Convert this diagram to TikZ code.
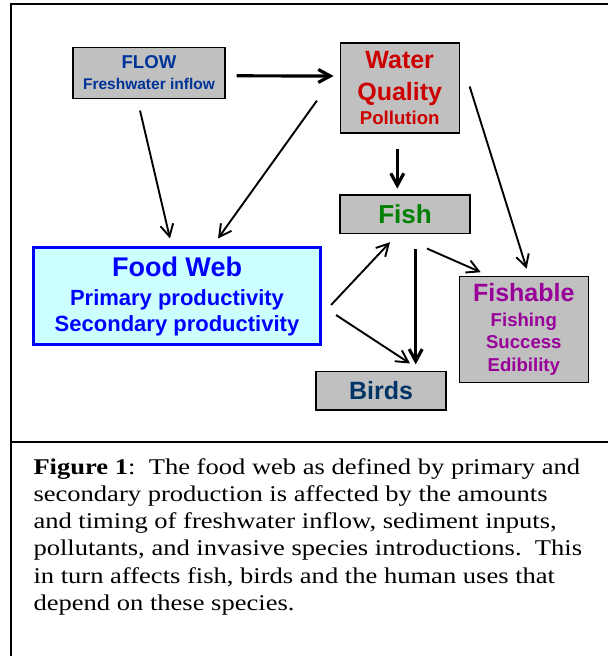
\documentclass[tikz,border=0pt]{standalone}
\usepackage{fontspec}
\setmainfont{Liberation Serif}[FakeStretch=1.18]
\setsansfont{Liberation Sans}
\usetikzlibrary{arrows.meta}
\definecolor{grisboite}{HTML}{C0C0C0}
\definecolor{bleuflux}{HTML}{003399}
\definecolor{rougeeau}{HTML}{CC0000}
\definecolor{vertpoisson}{HTML}{008000}
\definecolor{bleureseau}{HTML}{0000FF}
\definecolor{fondreseau}{HTML}{CCFFFF}
\definecolor{violetpeche}{HTML}{990099}
\definecolor{bleuoiseaux}{HTML}{003366}
\begin{document}
\begin{tikzpicture}[x=1pt,y=-1pt]
% Styles
\tikzstyle{fleche}=[-{Straight Barb[length=12pt,width=13pt]},line width=1.9pt]
\tikzstyle{grossefleche}=[fleche,line width=3.2pt]
\tikzstyle{boite}=[draw=black,line width=1.2pt,fill=grisboite,align=center,inner sep=0pt]
% Tailles de texte
\def\Grand{\fontsize{25}{31}\selectfont}
\def\Moyen{\fontsize{18.6}{23}\selectfont}
% Cadre
\useasboundingbox (0,0) rectangle (608,656);
\draw[line width=1.8pt] (608,4) -- (11,4) -- (11,656);
\draw[line width=1.8pt] (11,442) -- (608,442);
% Noeuds
\node[boite,minimum width=152pt,minimum height=51pt,text=bleuflux,font=\sffamily\bfseries\fontsize{15.5}{20.7}\selectfont] (Flux) at (149,72.8) {{\Moyen FLOW}\\Freshwater inflow};
\node[boite,minimum width=119pt,minimum height=90pt,text=rougeeau,font=\sffamily\bfseries\fontsize{25}{31.6}\selectfont] (Qualite) at (399.7,88) {Water\\Quality\\[-7.9pt]{\Moyen Pollution}};
\node[boite,minimum width=130pt,minimum height=38.5pt,text=vertpoisson,font=\sffamily\bfseries\fontsize{26}{30}\selectfont] (Poisson) at (405,214.2) {Fish};
\node[boite,draw=bleureseau,line width=3pt,fill=fondreseau,minimum width=287pt,minimum height=97pt,text=bleureseau,font=\sffamily\bfseries\fontsize{22}{26}\selectfont] (Reseau) at (177,296.2) {{\fontsize{27}{31}\selectfont Food Web}\\[3pt]Primary productivity\\Secondary productivity};
\node[boite,minimum width=129pt,minimum height=105.6pt,text=violetpeche,font=\sffamily\bfseries\fontsize{18.6}{22.5}\selectfont] (Peche) at (523.8,329.5) {{\Grand Fishable}\\[1.8pt]Fishing\\Success\\Edibility};
\node[boite,minimum width=130pt,minimum height=38.3pt,text=bleuoiseaux,font=\sffamily\bfseries\Grand] (Oiseaux) at (381,390.9) {Birds};
% Legende
\node[anchor=base west,align=left,inner sep=0pt,font=\fontsize{22.5}{27.2}\selectfont] (Legende) at (33.3,610.3) {\textbf{Figure 1}:\ \ The food web as defined by primary and\\
secondary production is affected by the amounts\\
and timing of freshwater inflow, sediment inputs,\\
pollutants, and invasive species introductions.\ \ This\\
in turn affects fish, birds and the human uses that\\
depend on these species.};
% Arcs
\draw[grossefleche,shorten <=11pt,shorten >=6pt] ([yshift=-3pt]Flux.east) -- ([yshift=12pt]Qualite.west);
\draw[fleche,shorten <=12pt,shorten >=8pt] ([xshift=-11.7pt]Flux.south) -- ([xshift=-5.2pt]Reseau.north);
\draw[fleche,shorten <=39pt,shorten >=9.5pt] ([yshift=19pt]Qualite.west) -- ([xshift=35.5pt]Reseau.north);
\draw[grossefleche,shorten <=15pt,shorten >=5.7pt] ([xshift=-2.4pt]Qualite.south) -- ([xshift=-2.4pt]Qualite.south |- Poisson.north);
\draw[fleche,shorten <=33pt,shorten >=7.8pt] ([yshift=33pt]Qualite.east) -- ([xshift=5.2pt]Peche.north);
\draw[fleche,shorten <=36pt,shorten >=9.7pt] ([xshift=-11pt]Poisson.south) -- ([xshift=-34.2pt]Peche.north);
\draw[grossefleche,shorten <=14.8pt,shorten >=6.7pt] ([xshift=10.7pt]Poisson.south) -- ([xshift=10.7pt]Poisson.south |- Oiseaux.north);
\draw[fleche,shorten <=13.2pt,shorten >=11.2pt] ([yshift=-18.4pt]Reseau.east) -- ([xshift=-7.3pt]Poisson.south);
\draw[fleche,shorten <=16.8pt,shorten >=14pt] ([yshift=-9.6pt]Reseau.east) -- ([xshift=40.7pt]Oiseaux.north);
\end{tikzpicture}
\end{document}
